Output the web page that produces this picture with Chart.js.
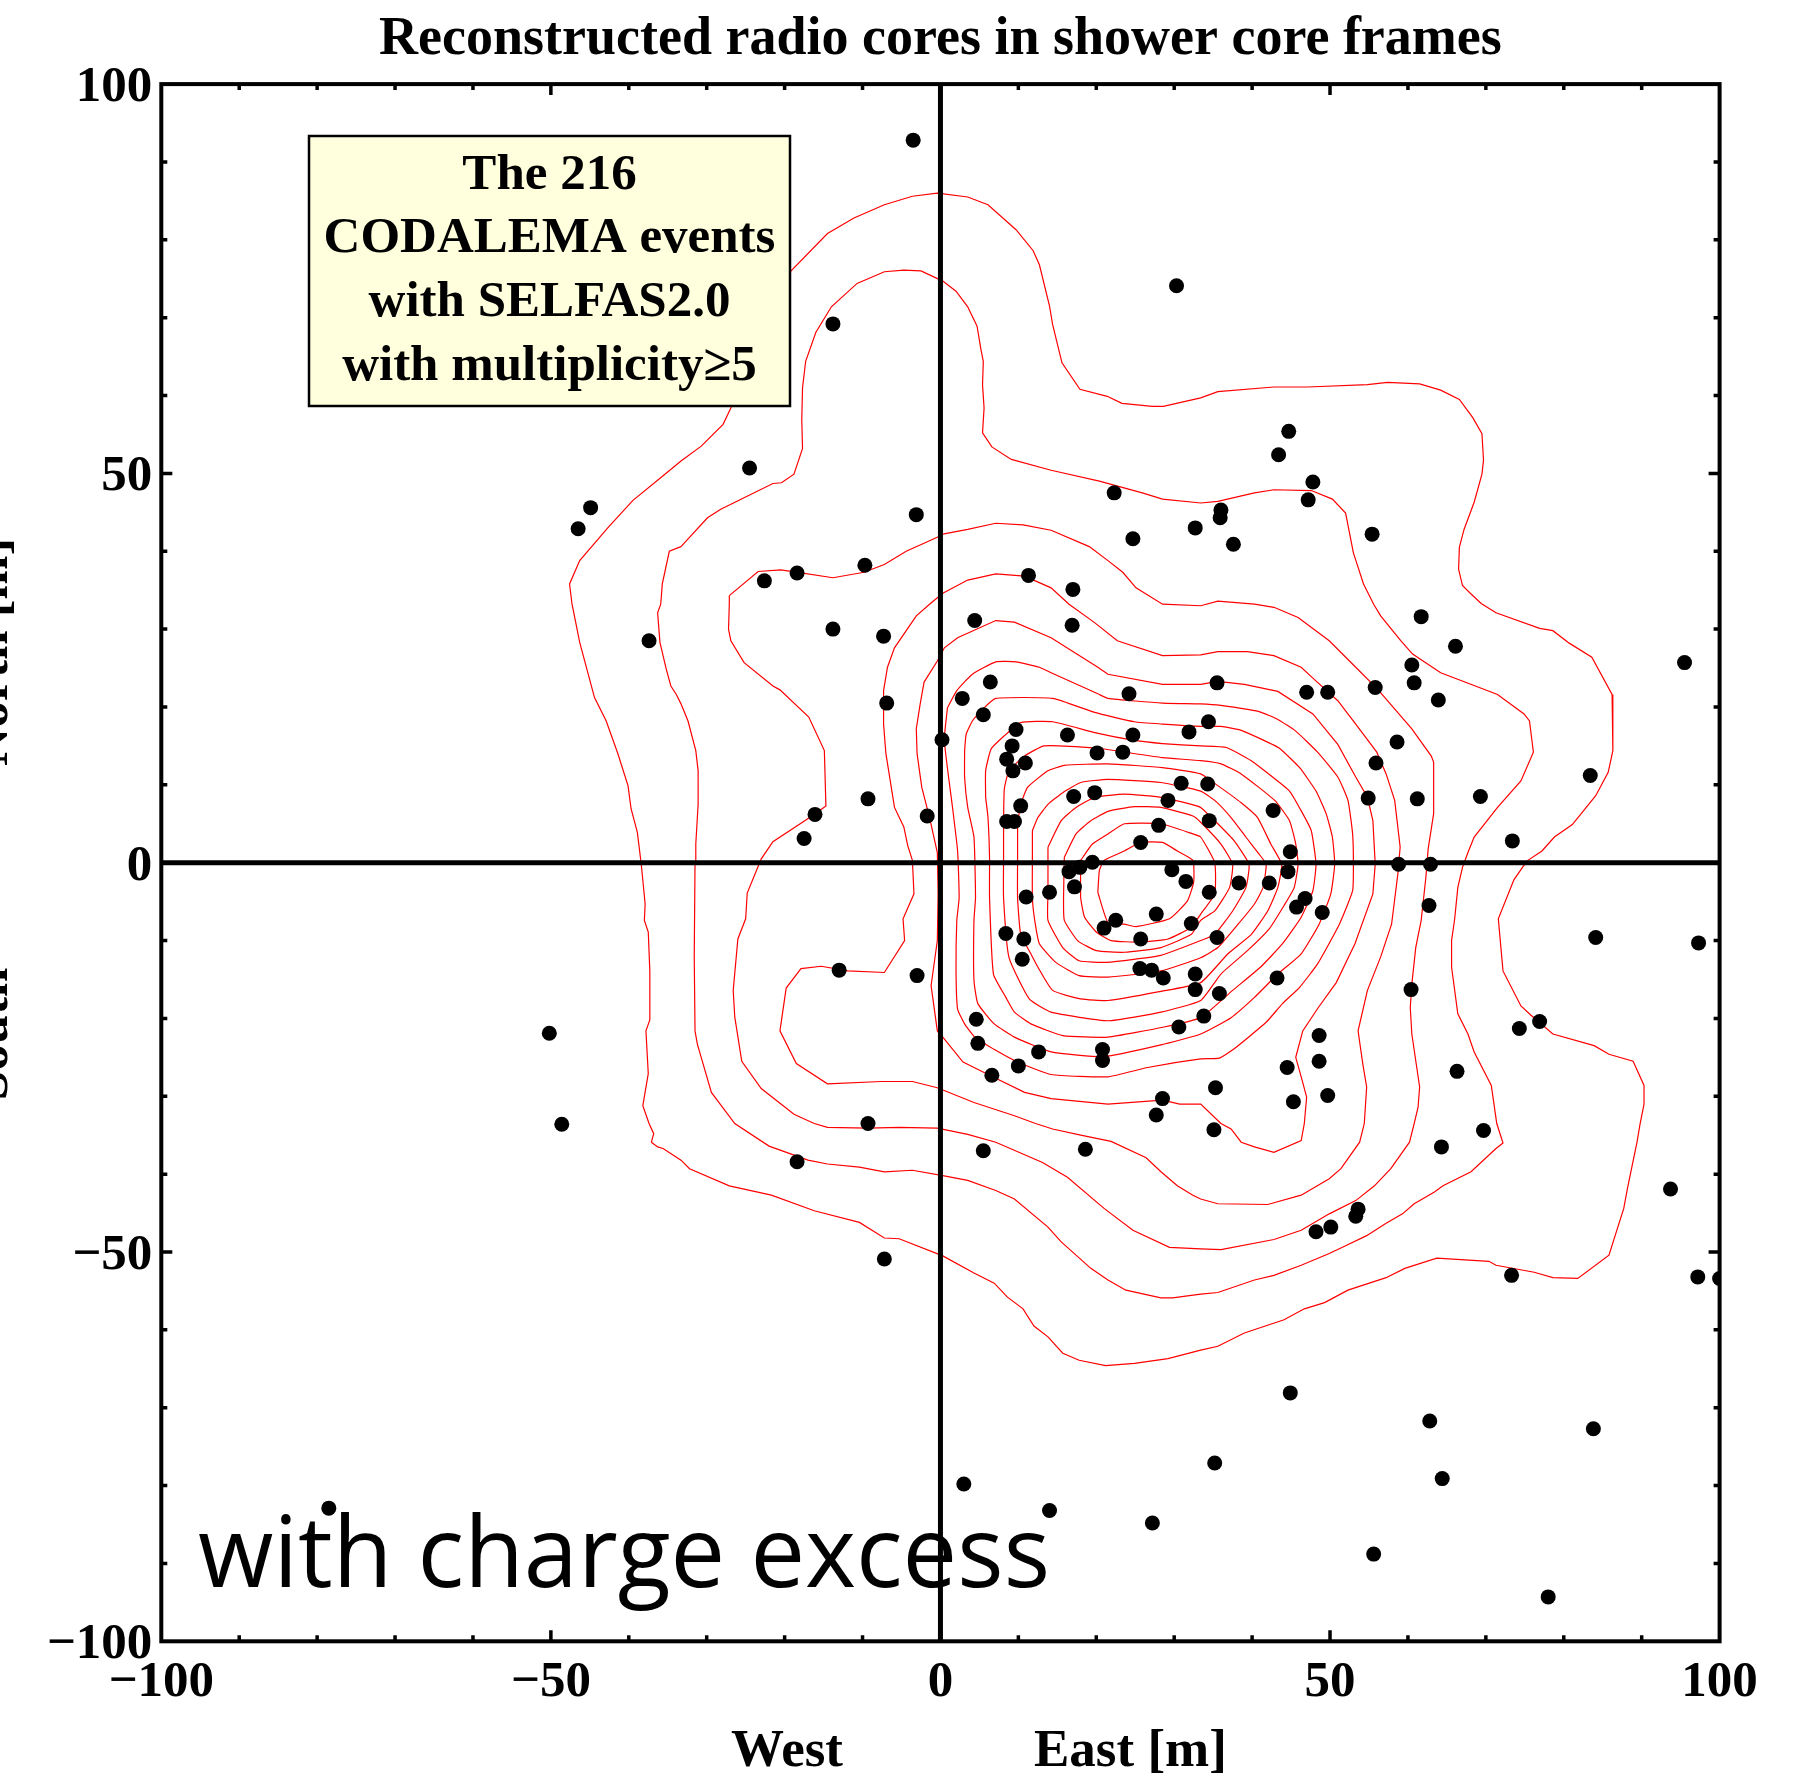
<!DOCTYPE html>
<html>
<head>
<meta charset="utf-8">
<script src="https://cdn.jsdelivr.net/npm/chart.js@4.4.1/dist/chart.umd.min.js"></script>
<style>
html,body{margin:0;padding:0;background:#ffffff;}
#wrap{width:1806px;height:1781px;position:relative;}
</style>
</head>
<body>
<div id="wrap"><canvas id="c" width="1806" height="1781"></canvas></div>
<script>
// Reconstructed radio core positions (shower core frame, metres)
const coreX = [-3.5,30.3,-13.8,44.7,43.4,-24.5,47.8,22.3,47.2,-44.9,-46.5,-3.1,36.0,35.9,32.7,37.6,24.7,55.4,-9.7,-18.4,-22.6,11.3,17.0,4.4,16.9,-13.8,-7.3,-37.4,61.7,66.1,95.5,60.5,6.4,35.5,60.8,55.8,2.8,24.2,47.0,49.7,63.9,-6.9,5.5,9.7,34.4,31.9,16.3,24.7,0.2,9.2,58.6,20.1,23.4,8.5,10.9,9.3,55.9,83.4,30.9,34.3,-9.3,19.8,17.1,29.2,54.9,61.2,69.3,-16.1,42.7,-1.7,10.3,8.5,9.5,34.5,28.0,-17.5,73.4,25.7,44.9,19.5,17.9,16.5,17.2,29.7,31.5,11.0,14.0,27.7,22.5,21.0,32.2,25.7,8.4,10.7,10.5,25.6,27.1,28.6,32.7,32.7,33.8,-13.0,-3.0,4.6,4.8,12.6,10.0,6.6,20.8,20.8,30.6,28.5,27.7,-9.3,58.8,62.9,44.6,38.3,42.2,34.5,46.8,45.7,49.0,62.7,84.1,97.3,35.5,43.2,35.8,60.4,76.9,74.3,48.6,48.6,44.5,35.3,66.3,49.7,45.3,35.1,64.3,69.7,93.7,53.6,53.3,50.1,48.2,73.3,97.2,100.0,44.9,62.8,83.8,35.2,64.4,55.6,78.0,5.5,18.6,-18.4,-7.2,3.0,14.0,27.2,-48.6,-50.2,-78.5];
const coreY = [92.8,74.1,69.2,55.4,52.4,50.7,48.9,47.5,46.6,45.6,42.9,44.7,45.3,44.3,43.0,40.9,41.6,42.2,38.2,37.2,36.2,36.9,35.1,31.1,30.5,30.0,29.1,28.5,31.6,27.8,25.7,25.4,23.2,23.1,23.1,22.5,21.1,21.7,21.9,21.9,20.9,20.5,19.0,17.1,18.1,16.8,16.4,16.4,15.8,15.0,15.5,14.1,14.2,13.3,12.8,11.8,12.8,11.2,10.2,10.1,8.2,9.0,8.5,8.0,8.3,8.2,8.5,6.2,6.7,6.0,7.3,5.3,5.3,5.4,4.8,3.1,2.8,2.6,1.4,0.05,-0.6,-1.15,-3.1,-0.9,-2.4,-4.4,-3.8,-6.6,-7.4,-8.4,-7.8,-9.8,-9.1,-9.8,-12.4,-13.6,-13.8,-14.8,-14.3,-16.3,-19.7,-13.8,-14.5,-20.1,-23.2,-24.3,-26.1,-27.3,-24.0,-25.4,-21.1,-30.3,-32.4,-33.5,-0.2,-0.2,-1.15,-2.6,-2.6,-3.8,-4.6,-5.7,-6.4,-5.5,-9.6,-10.3,-9.6,-14.8,-16.8,-16.3,-20.4,-21.3,-22.2,-25.5,-26.3,-28.9,-26.8,-29.9,-30.7,-34.3,-36.5,-34.4,-41.9,-44.5,-45.4,-46.8,-47.4,-53.0,-53.2,-53.4,-68.1,-71.7,-72.7,-77.1,-79.1,-88.8,-94.3,-37.0,-36.8,-38.4,-50.9,-79.8,-83.2,-84.8,-33.6,-21.9,-82.9];

// Density contour lines, outermost (A) to innermost (O)
const contourA = [[-0.4,86.0],[3.5,85.5],[6.1,84.5],[9.7,81.3],[11.9,78.6],[12.7,76.8],[14.0,71.5],[14.4,69.1],[15.6,64.2],[17.9,60.8],[21.4,59.9],[23.3,59.0],[27.2,58.6],[28.6,58.6],[33.4,59.7],[35.6,60.5],[42.8,61.1],[47.1,61.1],[54.8,61.4],[57.4,61.7],[61.5,61.5],[64.2,60.7],[66.6,59.5],[68.3,57.2],[69.5,55.1],[69.7,51.7],[69.5,49.9],[68.5,46.3],[67.2,42.8],[66.6,40.5],[66.5,37.7],[67.0,35.6],[67.9,34.7],[69.4,33.3],[71.3,32.1],[76.9,30.1],[78.6,29.8],[80.7,28.2],[83.6,26.4],[86.2,21.6],[86.3,14.4],[85.7,11.6],[84.1,8.6],[81.1,4.9],[78.8,3.3],[77.2,1.5],[75.4,0.3],[74.7,-0.6],[73.6,-2.2],[71.6,-7.2],[72.2,-13.9],[74.5,-18.4],[75.8,-19.6],[78.6,-22.0],[83.9,-23.5],[85.8,-24.6],[88.9,-25.5],[90.3,-28.6],[90.3,-31.0],[89.8,-33.5],[89.4,-35.9],[88.2,-41.7],[87.7,-44.4],[85.8,-50.4],[81.8,-53.4],[78.6,-53.3],[76.2,-52.6],[71.3,-51.7],[70.4,-51.2],[63.7,-50.8],[59.6,-52.1],[57.2,-53.3],[52.3,-54.9],[49.3,-56.5],[46.7,-57.3],[44.1,-58.7],[39.0,-60.4],[35.6,-62.1],[33.4,-62.6],[29.2,-63.7],[24.9,-64.3],[21.2,-64.6],[17.8,-63.9],[15.7,-63.0],[13.8,-60.9],[12.0,-59.5],[10.6,-57.3],[8.6,-55.8],[6.9,-54.0],[4.3,-52.7],[0.3,-50.5],[-5.3,-48.3],[-7.2,-48.2],[-10.4,-46.2],[-16.2,-44.7],[-21.7,-42.7],[-27.1,-41.5],[-32.2,-39.3],[-33.3,-38.2],[-35.6,-36.7],[-36.3,-36.5],[-37.1,-35.9],[-36.8,-34.8],[-37.4,-33.5],[-38.2,-31.2],[-37.5,-27.1],[-37.8,-21.6],[-37.3,-20.2],[-37.3,-13.9],[-37.5,-8.9],[-38.0,-7.4],[-37.9,-5.3],[-38.4,-0.2],[-38.9,3.9],[-39.7,6.9],[-40.1,9.9],[-41.4,14.0],[-42.9,18.2],[-44.4,21.2],[-46.3,28.3],[-47.3,33.3],[-47.6,35.8],[-46.3,38.8],[-42.7,43.0],[-39.5,46.5],[-35.6,49.7],[-33.3,51.6],[-30.7,53.5],[-27.9,56.3],[-26.9,58.4],[-23.0,67.0],[-19.2,76.0],[-14.5,80.8],[-11.1,82.8],[-7.2,84.5],[-3.6,85.6],[-0.4,86.0]];
const contourB = [[-33.3,40.6],[-29.9,44.3],[-28.2,45.4],[-21.5,48.7],[-20.4,48.8],[-18.8,49.9],[-17.7,53.2],[-17.8,56.9],[-17.7,61.0],[-17.3,64.4],[-16.0,68.1],[-14.0,71.4],[-10.7,74.4],[-7.2,75.9],[-4.7,76.1],[-2.5,76.0],[0.3,74.7],[2.0,73.4],[3.5,71.4],[4.7,68.9],[5.2,65.9],[5.5,64.4],[5.4,61.4],[5.6,58.4],[5.4,55.2],[6.6,53.4],[9.1,51.8],[14.2,50.4],[20.4,49.0],[25.9,47.5],[28.5,46.7],[33.4,46.2],[35.6,46.4],[40.3,47.5],[42.8,47.9],[47.6,47.8],[50.3,46.7],[52.0,44.9],[53.0,39.8],[54.3,35.8],[55.6,33.2],[56.5,31.7],[59.1,28.5],[60.6,26.8],[64.2,24.4],[71.5,21.6],[74.9,19.1],[75.6,18.2],[76.1,14.2],[74.5,10.5],[71.5,7.1],[68.5,3.3],[67.7,1.3],[67.0,-0.6],[66.4,-3.2],[66.0,-7.2],[65.6,-10.0],[65.6,-13.4],[66.4,-19.4],[67.7,-22.0],[68.5,-24.3],[70.7,-28.6],[71.4,-33.5],[72.2,-36.0],[71.3,-36.7],[68.1,-39.7],[64.5,-41.5],[63.4,-42.3],[60.8,-43.8],[59.3,-45.1],[57.2,-46.3],[54.7,-47.9],[52.0,-49.2],[49.9,-50.2],[46.3,-51.7],[42.8,-53.0],[40.3,-53.6],[35.6,-55.2],[33.4,-55.4],[29.8,-55.9],[28.3,-55.9],[23.8,-54.9],[21.5,-53.6],[19.3,-52.1],[15.5,-48.7],[13.8,-46.8],[9.5,-43.2],[7.1,-42.1],[3.5,-40.8],[0.3,-40.2],[-3.6,-39.5],[-7.2,-39.7],[-10.4,-39.1],[-14.5,-38.7],[-17.0,-38.2],[-22.0,-36.4],[-26.4,-33.5],[-29.4,-29.5],[-31.2,-23.3],[-31.5,-21.6],[-31.6,-12.1],[-31.5,-0.2],[-31.4,2.4],[-31.1,7.5],[-31.1,11.8],[-31.4,14.4],[-32.4,18.2],[-33.3,20.4],[-33.9,21.6],[-34.6,22.7],[-35.2,24.9],[-36.0,28.3],[-36.3,32.1],[-35.9,33.2],[-35.7,35.8],[-34.8,40.0],[-33.3,40.6]];
const contourC = [[-27.1,34.3],[-23.4,37.4],[-20.5,37.6],[-18.3,37.3],[-13.8,36.6],[-9.8,37.3],[-7.2,38.3],[-4.4,40.0],[-0.4,41.8],[0.3,42.2],[3.5,42.8],[7.1,43.6],[10.6,43.4],[14.2,42.7],[19.1,40.6],[21.5,38.8],[23.4,37.3],[25.1,35.3],[28.5,33.2],[33.4,33.0],[35.6,33.6],[40.3,33.2],[42.8,32.8],[45.9,31.5],[49.9,28.5],[53.3,25.1],[56.1,22.3],[60.5,17.2],[63.0,13.7],[63.3,12.9],[63.3,6.3],[62.6,1.8],[62.3,-1.9],[61.7,-7.4],[61.0,-10.9],[60.5,-15.6],[60.3,-18.6],[60.5,-22.0],[61.0,-25.4],[61.5,-28.8],[61.3,-31.4],[60.8,-33.5],[60.2,-35.9],[57.8,-39.3],[55.7,-41.5],[53.3,-43.4],[49.9,-45.1],[46.3,-47.2],[42.8,-48.4],[36.0,-49.7],[33.4,-49.6],[29.4,-49.4],[24.7,-47.2],[21.0,-44.4],[16.3,-40.4],[13.1,-38.5],[7.1,-35.9],[3.5,-34.9],[-0.4,-34.1],[-5.3,-34.0],[-9.3,-34.1],[-14.5,-34.0],[-16.2,-33.5],[-18.8,-32.3],[-23.0,-29.0],[-25.5,-25.5],[-26.4,-19.8],[-26.6,-16.4],[-26.0,-9.8],[-25.0,-7.2],[-24.8,-3.9],[-23.0,0.5],[-21.5,2.7],[-16.2,6.2],[-14.7,7.3],[-14.9,14.4],[-16.9,18.7],[-20.6,22.2],[-21.5,22.7],[-25.2,25.7],[-26.9,28.5],[-27.2,30.0],[-27.1,33.2],[-27.1,34.3]];
const contourD = [[-1.4,33.2],[0.3,34.6],[3.5,36.3],[7.1,37.1],[10.8,36.8],[14.2,35.3],[16.5,33.2],[19.7,30.9],[22.7,28.5],[28.5,26.6],[33.4,26.7],[35.6,27.1],[39.4,27.1],[42.8,26.6],[46.3,25.1],[47.8,23.7],[51.0,20.8],[53.3,17.8],[56.0,14.2],[57.2,11.4],[58.3,8.0],[59.0,2.0],[58.7,-1.5],[57.9,-7.9],[56.5,-12.1],[54.8,-16.4],[53.6,-21.6],[54.2,-25.8],[54.7,-28.8],[54.4,-33.5],[53.8,-35.9],[51.4,-39.3],[49.9,-40.6],[46.3,-42.7],[42.0,-43.9],[35.6,-43.8],[33.4,-43.2],[32.4,-42.7],[30.4,-41.5],[28.3,-39.7],[26.4,-37.9],[21.9,-35.8],[18.0,-35.0],[14.4,-34.2],[12.2,-33.5],[9.5,-32.5],[4.3,-30.8],[-0.4,-28.9],[-3.6,-28.1],[-7.6,-28.1],[-14.5,-28.4],[-18.5,-25.8],[-20.6,-21.6],[-19.8,-16.1],[-17.9,-13.6],[-15.3,-13.3],[-11.9,-13.9],[-7.2,-14.1],[-4.6,-10.0],[-4.8,-7.2],[-3.4,-4.0],[-3.6,0.3],[-4.2,2.2],[-4.7,4.6],[-5.9,7.1],[-7.0,14.0],[-7.3,17.8],[-7.3,22.1],[-6.8,25.1],[-5.9,27.6],[-3.1,31.7],[-1.4,33.2]];
const contourE = [[33.4,22.9],[35.6,23.3],[39.0,22.9],[43.3,22.0],[47.8,19.1],[51.0,15.2],[53.3,11.0],[54.8,8.4],[55.5,5.4],[55.8,-0.2],[55.5,-4.0],[53.2,-10.4],[50.8,-15.4],[48.5,-18.6],[46.5,-21.6],[45.6,-25.0],[46.3,-27.5],[47.0,-30.1],[46.7,-33.5],[46.3,-35.7],[42.8,-37.2],[40.3,-36.5],[38.6,-35.9],[37.3,-34.2],[36.0,-33.5],[33.4,-31.0],[30.7,-31.0],[28.5,-30.5],[21.5,-31.0],[14.2,-30.3],[10.8,-29.5],[6.7,-27.5],[2.9,-25.6],[0.3,-22.4],[-0.4,-21.6],[-1.2,-15.8],[-0.4,-10.0],[-0.3,-4.0],[-0.4,1.3],[-1.4,5.8],[-2.4,9.7],[-3.0,14.0],[-3.1,17.2],[-2.6,20.4],[-2.1,23.2],[-0.4,25.9],[0.5,27.6],[2.2,28.9],[7.1,31.1],[9.5,30.9],[14.2,28.9],[20.2,25.1],[21.5,24.2],[28.5,22.9],[33.4,22.9]];
const contourF = [[0.9,19.9],[2.1,22.1],[4.1,24.2],[7.1,25.8],[9.7,25.8],[12.7,25.1],[14.2,24.4],[20.2,21.7],[21.5,21.1],[28.5,20.5],[33.4,20.4],[36.0,20.2],[40.9,19.4],[43.3,18.4],[45.6,16.9],[48.4,14.2],[51.0,11.0],[52.3,8.0],[52.9,3.7],[53.0,-0.2],[52.9,-3.6],[51.2,-7.9],[48.4,-13.0],[46.1,-16.0],[43.9,-18.1],[41.8,-20.5],[37.7,-23.9],[35.8,-25.1],[33.4,-25.2],[26.6,-26.3],[21.5,-27.5],[14.2,-27.2],[9.9,-25.6],[7.1,-24.1],[4.4,-22.4],[3.1,-20.7],[2.2,-18.8],[2.0,-13.9],[2.1,-7.4],[2.4,-4.5],[2.2,1.5],[1.6,6.7],[0.5,15.7],[0.9,19.9]];
const contourG = [[3.1,14.4],[3.3,16.5],[4.1,18.2],[5.4,19.7],[7.1,21.1],[14.4,21.1],[19.8,19.3],[24.9,18.1],[28.5,17.8],[33.4,17.5],[36.0,17.5],[38.6,17.0],[41.1,15.9],[43.5,14.7],[46.1,12.2],[48.2,9.2],[49.5,6.3],[50.3,3.3],[50.6,-0.2],[50.1,-4.0],[48.6,-7.9],[46.3,-11.7],[43.3,-14.3],[40.3,-17.3],[37.3,-19.9],[33.4,-22.0],[28.3,-23.4],[21.0,-24.9],[14.2,-24.3],[9.5,-22.4],[6.9,-20.7],[4.8,-18.1],[4.3,-15.1],[4.3,-7.4],[4.5,-4.5],[4.3,3.3],[3.5,7.1],[3.1,11.0],[3.1,14.4]];
const contourH = [[5.8,8.4],[5.8,11.8],[6.5,14.6],[8.2,16.3],[10.3,18.0],[14.4,18.1],[19.8,16.7],[24.9,15.7],[28.5,15.3],[33.4,15.0],[36.7,14.8],[39.9,13.1],[41.6,11.8],[44.8,9.2],[46.5,6.3],[47.6,4.1],[48.2,-0.2],[47.8,-3.6],[46.3,-7.0],[43.9,-10.4],[41.1,-13.4],[37.5,-16.4],[33.4,-19.9],[28.7,-21.1],[21.5,-22.4],[15.7,-22.2],[11.6,-20.7],[9.5,-19.2],[8.4,-17.3],[6.8,-14.3],[6.3,-4.5],[6.3,0.7],[6.1,5.8],[5.8,8.4]];
const contourI = [[8.1,5.4],[8.2,9.5],[8.8,11.8],[10.8,13.7],[13.3,15.0],[20.2,14.7],[23.6,14.2],[28.5,13.5],[33.4,13.1],[36.0,12.7],[38.6,11.4],[42.9,8.0],[44.8,5.4],[45.6,2.4],[45.9,-0.2],[45.4,-3.2],[44.1,-5.5],[42.2,-8.5],[39.4,-11.3],[36.0,-14.3],[33.4,-17.7],[28.3,-19.2],[21.5,-20.3],[14.2,-19.2],[11.4,-17.5],[8.8,-12.2],[8.1,-4.5],[8.1,0.7],[8.1,5.4]];
const contourJ = [[9.9,5.0],[10.3,7.5],[11.2,9.7],[13.8,11.8],[15.9,12.5],[21.5,12.7],[28.5,12.2],[33.4,11.4],[35.6,9.9],[38.6,7.7],[40.7,5.8],[42.4,2.4],[43.8,-0.2],[43.3,-3.2],[42.0,-6.2],[39.9,-9.2],[36.9,-11.7],[33.4,-15.4],[27.9,-16.6],[21.5,-17.7],[18.0,-17.5],[14.4,-16.4],[12.5,-13.4],[11.6,-11.7],[10.3,-9.2],[9.9,-4.5],[9.9,0.7],[9.9,5.0]];
const contourK = [[11.8,4.1],[12.5,5.8],[13.8,7.5],[15.7,9.0],[18.0,10.3],[21.5,10.7],[28.3,10.3],[33.4,9.2],[35.2,8.0],[37.3,5.8],[39.2,3.3],[40.9,1.1],[41.8,-0.2],[41.4,-3.2],[40.3,-5.3],[38.2,-7.9],[35.6,-10.9],[33.4,-12.2],[28.3,-13.9],[21.5,-14.7],[17.8,-14.5],[14.8,-12.8],[12.7,-10.4],[12.1,-7.4],[11.8,-4.5],[11.8,0.7],[11.8,4.1]];
const contourL = [[13.8,2.0],[15.5,5.4],[17.4,7.1],[19.8,8.4],[23.6,8.8],[28.3,8.4],[32.2,7.5],[33.4,7.1],[35.6,5.0],[37.7,2.8],[39.6,-0.2],[39.2,-3.2],[37.5,-6.2],[35.2,-9.2],[33.4,-10.0],[28.3,-11.9],[21.3,-12.8],[17.8,-12.6],[15.7,-10.9],[13.8,-7.4],[13.8,-4.0],[13.8,2.0]];
const contourM = [[15.9,0.7],[17.4,3.7],[19.3,5.4],[21.5,6.6],[24.9,7.2],[28.3,7.1],[32.4,6.0],[33.4,5.2],[36.0,2.4],[37.5,-0.2],[37.1,-3.2],[35.2,-6.2],[33.4,-7.4],[32.2,-9.2],[28.3,-10.9],[23.6,-11.5],[20.0,-11.3],[17.6,-10.0],[15.9,-7.4],[15.8,-4.5],[15.9,0.7]];
const contourN = [[18.0,0.3],[19.5,2.4],[21.5,3.7],[23.6,5.0],[28.3,5.0],[32.4,3.7],[33.4,3.3],[35.2,0.0],[35.2,-4.0],[33.4,-6.6],[32.2,-8.3],[29.2,-9.8],[25.7,-10.2],[21.9,-10.0],[20.0,-8.9],[18.5,-7.0],[18.0,-4.5],[18.0,0.3]];
const contourO = [[20.2,-3.8],[20.4,-1.0],[21.0,0.3],[23.6,1.5],[25.7,2.6],[28.5,2.6],[30.4,1.5],[32.4,0.3],[32.5,-2.5],[31.7,-4.9],[29.4,-7.2],[25.1,-8.2],[23.6,-7.9],[21.5,-7.7],[20.2,-3.8]];

const outerContours = [contourA, contourB, contourC, contourD, contourE];
const innerContours = [contourF, contourG, contourH, contourI, contourJ, contourK, contourL, contourM, contourN, contourO];

const tickValues = [-100, -50, 0, 50, 100];
const tickLabels = ['\u2212100', '\u221250', '0', '50', '100'];
const minorStep = 10;

const titleText = 'Reconstructed radio cores in shower core frames';
const infoLines = ['The 216', 'CODALEMA events', 'with SELFAS2.0', 'with multiplicity\u22655'];
const noteText = 'with charge excess';

const SERIF = '"Liberation Serif", "Times New Roman", serif';

const toXY = arr => arr.map(([x, y]) => ({x, y}));

const datasets = [{
  label: 'cores',
  data: coreX.map((x, i) => ({x, y: coreY[i]})),
  pointRadius: 7.5,
  pointBackgroundColor: '#000',
  pointBorderWidth: 0,
  showLine: false,
  clip: 0
}];
outerContours.forEach((c, i) => datasets.push({
  label: 'level ' + (i + 1), data: toXY(c), showLine: true, pointRadius: 0,
  borderColor: '#ff0000', borderWidth: 1.2, tension: 0, fill: false, clip: 0
}));
innerContours.forEach((c, i) => datasets.push({
  label: 'level ' + (i + 6), data: toXY(c), showLine: true, pointRadius: 0,
  borderColor: '#ff0000', borderWidth: 1.2, tension: 0.15, fill: false, clip: 0
}));

const decor = {
  id: 'decor',
  afterDatasetsDraw(chart) {
    const {ctx, chartArea: a, scales: {x, y}} = chart;
    ctx.save();
    const x0 = x.getPixelForValue(0), y0 = y.getPixelForValue(0);
    // zero lines
    ctx.strokeStyle = '#000';
    ctx.lineWidth = 5;
    ctx.beginPath();
    ctx.moveTo(x0, a.top); ctx.lineTo(x0, a.bottom);
    ctx.moveTo(a.left, y0); ctx.lineTo(a.right, y0);
    ctx.stroke();
    // frame
    ctx.lineWidth = 4;
    ctx.strokeRect(a.left, a.top, a.right - a.left, a.bottom - a.top);
    // inward ticks on all sides
    ctx.lineWidth = 3.5;
    ctx.beginPath();
    for (let v = -100 + minorStep; v < 100; v += minorStep) {
      const len = (v % 50 === 0) ? 11 : 6;
      const px = x.getPixelForValue(v), py = y.getPixelForValue(v);
      ctx.moveTo(px, a.bottom); ctx.lineTo(px, a.bottom - len);
      ctx.moveTo(px, a.top); ctx.lineTo(px, a.top + len);
      ctx.moveTo(a.left, py); ctx.lineTo(a.left + len, py);
      ctx.moveTo(a.right, py); ctx.lineTo(a.right - len, py);
    }
    ctx.stroke();

    // info box
    const bx0 = 309, by0 = 136, bx1 = 790, by1 = 406;
    ctx.fillStyle = '#ffffdd';
    ctx.fillRect(bx0, by0, bx1 - bx0, by1 - by0);
    ctx.lineWidth = 2.5;
    ctx.strokeStyle = '#000';
    ctx.strokeRect(bx0, by0, bx1 - bx0, by1 - by0);
    ctx.fillStyle = '#000';
    ctx.font = 'bold 51px ' + SERIF;
    ctx.textAlign = 'center';
    ctx.textBaseline = 'alphabetic';
    const baselines = [189, 252, 316, 380];
    infoLines.forEach((t, i) => ctx.fillText(t, (bx0 + bx1) / 2, baselines[i]));

    // large annotation
    ctx.font = '98px "Open Sans", "DejaVu Sans", sans-serif';
    ctx.textAlign = 'left';
    const w = ctx.measureText(noteText).width;
    ctx.save();
    ctx.translate(198, 1587);
    ctx.scale(852 / w, 1);
    ctx.fillText(noteText, 0, 0);
    ctx.restore();
    ctx.restore();
  },
  afterDraw(chart) {
    const {ctx, chartArea: a, scales: {x, y}} = chart;
    ctx.save();
    ctx.fillStyle = '#000';
    // tick labels
    ctx.font = 'bold 51px ' + SERIF;
    ctx.textBaseline = 'alphabetic';
    ctx.textAlign = 'center';
    tickValues.forEach((v, i) => ctx.fillText(tickLabels[i], x.getPixelForValue(v), a.bottom + 55));
    ctx.textAlign = 'right';
    tickValues.forEach((v, i) => ctx.fillText(tickLabels[i], a.left - 9, y.getPixelForValue(v) + 17));
    // title
    ctx.font = 'bold 54px ' + SERIF;
    ctx.textAlign = 'center';
    ctx.fillText(titleText, (a.left + a.right) / 2, 54);
    // axis labels
    ctx.font = 'bold 53px ' + SERIF;
    ctx.fillText('West', 787, 1766);
    ctx.textAlign = 'left';
    ctx.fillText('East [m]', 1034, 1766);
    ctx.save();
    ctx.translate(7, 0);
    ctx.rotate(-Math.PI / 2);
    ctx.textAlign = 'center';
    ctx.fillText('South', -1034, 0);
    ctx.textAlign = 'left';
    ctx.fillText('North [m]', -766, 0);
    ctx.restore();
    ctx.restore();
  }
};

new Chart(document.getElementById('c'), {
  type: 'scatter',
  data: {datasets},
  options: {
    responsive: false,
    maintainAspectRatio: false,
    devicePixelRatio: 1,
    animation: false,
    events: [],
    layout: {padding: {left: 161.3, top: 84.1, right: 86.4, bottom: 139.7}},
    plugins: {legend: {display: false}, tooltip: {enabled: false}, title: {display: false}},
    scales: {
      x: {type: 'linear', min: -100, max: 100, display: false},
      y: {type: 'linear', min: -100, max: 100, display: false}
    }
  },
  plugins: [decor]
});
</script>
</body>
</html>
